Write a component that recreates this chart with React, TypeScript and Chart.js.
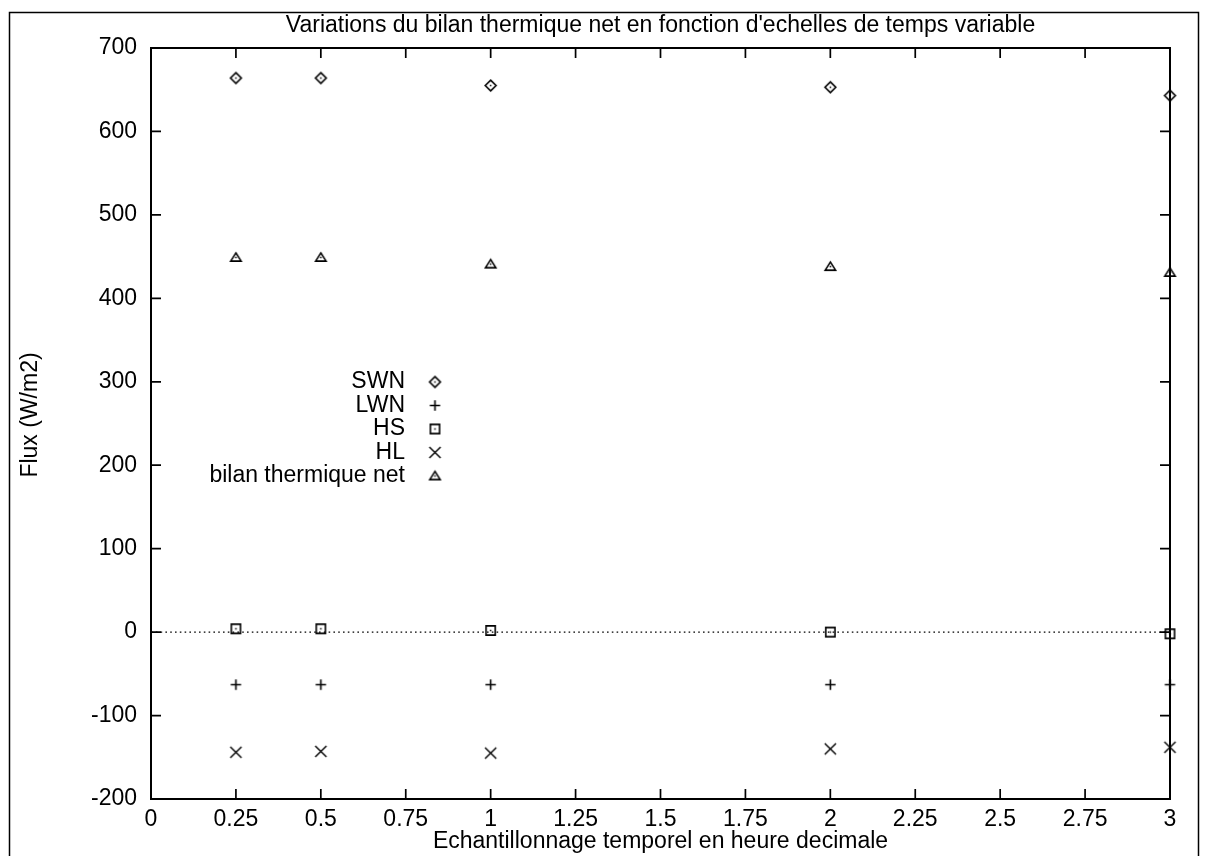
import { useEffect, useRef } from "react";
import { Chart, registerables } from "chart.js";

Chart.register(...registerables);

// ---- data ----
const timeSteps = [0.25, 0.5, 1, 2, 3];
const swn = [664, 664, 655, 653, 643];
const lwn = [-63, -63, -63, -63, -63];
const hs = [4, 4, 2, 0, -2];
const hl = [-144, -143, -145, -140, -138];
const bilan = [449, 449, 441, 438, 431];
const seriesNames = ["SWN", "LWN", "HS", "HL", "bilan thermique net"];
const zeroLineX = [0, 3];
const zeroLineY = [0, 0];
const xTicks = [0, 0.25, 0.5, 0.75, 1, 1.25, 1.5, 1.75, 2, 2.25, 2.5, 2.75, 3];
const yTicks = [-200, -100, 0, 100, 200, 300, 400, 500, 600, 700];
const chartTitle = "Variations du bilan thermique net en fonction d'echelles de temps variable";
const xTitle = "Echantillonnage temporel en heure decimale";
const yTitle = "Flux (W/m2)";

const INK = "#000";
const FAMILY = '"Liberation Sans", Arial, Helvetica, sans-serif';
const FONT = "23px " + FAMILY;

type Kind = "diamond" | "plus" | "square" | "cross" | "triangle";
const kinds: Kind[] = ["diamond", "plus", "square", "cross", "triangle"];

function makeMarker(kind: Kind): HTMLCanvasElement {
  const c = document.createElement("canvas");
  c.width = 17;
  c.height = 17;
  const g = c.getContext("2d")!;
  const m = 8.5;
  g.strokeStyle = INK;
  g.fillStyle = INK;
  g.lineWidth = 1.6;
  g.beginPath();
  const dot = () => {
    g.fillRect(m - 0.75, m - 0.75, 1.5, 1.5);
  };
  if (kind === "diamond") {
    const h = 5.4;
    g.moveTo(m, m - h);
    g.lineTo(m + h, m);
    g.lineTo(m, m + h);
    g.lineTo(m - h, m);
    g.closePath();
    g.stroke();
    dot();
  } else if (kind === "plus") {
    const h = 5.2;
    g.moveTo(m - h, m);
    g.lineTo(m + h, m);
    g.moveTo(m, m - h);
    g.lineTo(m, m + h);
    g.stroke();
  } else if (kind === "square") {
    const h = 4.6;
    g.rect(m - h, m - h, 2 * h, 2 * h);
    g.stroke();
    dot();
  } else if (kind === "cross") {
    const h = 5.6;
    g.lineWidth = 1.4;
    g.moveTo(m - h, m - h);
    g.lineTo(m + h, m + h);
    g.moveTo(m + h, m - h);
    g.lineTo(m - h, m + h);
    g.stroke();
  } else {
    g.moveTo(m, m - 4.6);
    g.lineTo(m + 5.2, m + 3.6);
    g.lineTo(m - 5.2, m + 3.6);
    g.closePath();
    g.stroke();
    dot();
  }
  return c;
}

export default function App() {
  const ref = useRef<HTMLCanvasElement | null>(null);

  useEffect(() => {
    if (!ref.current) return;
    const markers = kinds.map(makeMarker);
    const series = [swn, lwn, hs, hl, bilan];

    const framePlugin = {
      id: "gnuFrame",
      beforeDatasetsDraw(chart: any) {
        const { ctx, chartArea: a, scales } = chart;
        const xs = scales.x;
        const ys = scales.y;
        ctx.save();
        ctx.strokeStyle = INK;
        ctx.fillStyle = INK;
        // outer page frame
        ctx.lineWidth = 1.5;
        ctx.strokeRect(9.5, 12.5, 1189, 870);
        // plot frame
        ctx.lineWidth = 2;
        ctx.strokeRect(a.left, a.top, a.right - a.left, a.bottom - a.top);
        // inward ticks, mirrored
        ctx.lineWidth = 1.7;
        const tl = 10;
        ctx.beginPath();
        xs.ticks.forEach((t: any) => {
          const px = xs.getPixelForValue(t.value);
          if (px <= a.left + 1 || px >= a.right - 1) return;
          ctx.moveTo(px, a.top);
          ctx.lineTo(px, a.top + tl);
          ctx.moveTo(px, a.bottom);
          ctx.lineTo(px, a.bottom - tl);
        });
        ys.ticks.forEach((t: any) => {
          const py = ys.getPixelForValue(t.value);
          if (py <= a.top + 1 || py >= a.bottom - 1) return;
          ctx.moveTo(a.left, py);
          ctx.lineTo(a.left + tl, py);
          ctx.moveTo(a.right, py);
          ctx.lineTo(a.right - tl, py);
        });
        ctx.stroke();
        // titles
        ctx.font = FONT;
        ctx.textAlign = "center";
        ctx.textBaseline = "middle";
        const cx = (a.left + a.right) / 2;
        ctx.fillText(chartTitle, cx, 26);
        ctx.fillText(xTitle, cx, 842);
        ctx.save();
        ctx.translate(31, 415);
        ctx.rotate(-Math.PI / 2);
        ctx.fillText(yTitle, 0, 0);
        ctx.restore();
        // key
        ctx.textAlign = "right";
        seriesNames.forEach((name, i) => {
          const ty = 382 + i * 23.5;
          ctx.fillText(name, 405, ty);
          const mk = markers[i];
          ctx.drawImage(mk, 435 - mk.width / 2, ty - mk.height / 2);
        });
        ctx.restore();
      },
    };

    const datasets: any[] = series.map((vals, i) => ({
      label: seriesNames[i],
      data: timeSteps.map((t, j) => ({ x: t, y: vals[j] })),
      pointStyle: markers[i],
      pointRadius: 6,
      showLine: false,
      clip: false,
    }));
    datasets.push({
      label: "zero",
      type: "line",
      data: zeroLineX.map((x, j) => ({ x, y: zeroLineY[j] })),
      borderColor: INK,
      borderWidth: 1.4,
      borderDash: [1.6, 3.2],
      pointRadius: 0,
      fill: false,
    });

    const tickFont = { family: FAMILY, size: 23 };

    const chart = new Chart(ref.current, {
      type: "scatter",
      data: { datasets },
      plugins: [framePlugin],
      options: {
        animation: false,
        responsive: false,
        devicePixelRatio: 1,
        layout: { padding: { left: 0, top: 48, right: 35, bottom: 0 } },
        plugins: { legend: { display: false }, tooltip: { enabled: false }, title: { display: false } },
        scales: {
          x: {
            type: "linear",
            min: 0,
            max: 3,
            grid: { display: false, drawTicks: false },
            border: { display: false },
            afterBuildTicks: (s: any) => {
              s.ticks = xTicks.map((v) => ({ value: v }));
            },
            afterFit: (s: any) => {
              s.height = 57;
            },
            ticks: {
              color: INK,
              font: tickFont,
              padding: 7,
              maxRotation: 0,
              autoSkip: false,
              callback: (v: any) => String(v),
            },
          },
          y: {
            type: "linear",
            min: -200,
            max: 700,
            grid: { display: false, drawTicks: false },
            border: { display: false },
            afterBuildTicks: (s: any) => {
              s.ticks = yTicks.map((v) => ({ value: v }));
            },
            afterFit: (s: any) => {
              s.width = 151;
            },
            ticks: {
              color: INK,
              font: tickFont,
              padding: 14,
              autoSkip: false,
              callback: (v: any) => String(v),
            },
          },
        },
      },
    });
    return () => chart.destroy();
  }, []);

  return (
    <div style={{ position: "fixed", left: 0, top: 0, width: 1205, height: 856, background: "#fff" }}>
      <canvas ref={ref} width={1205} height={856} style={{ display: "block" }} />
    </div>
  );
}
